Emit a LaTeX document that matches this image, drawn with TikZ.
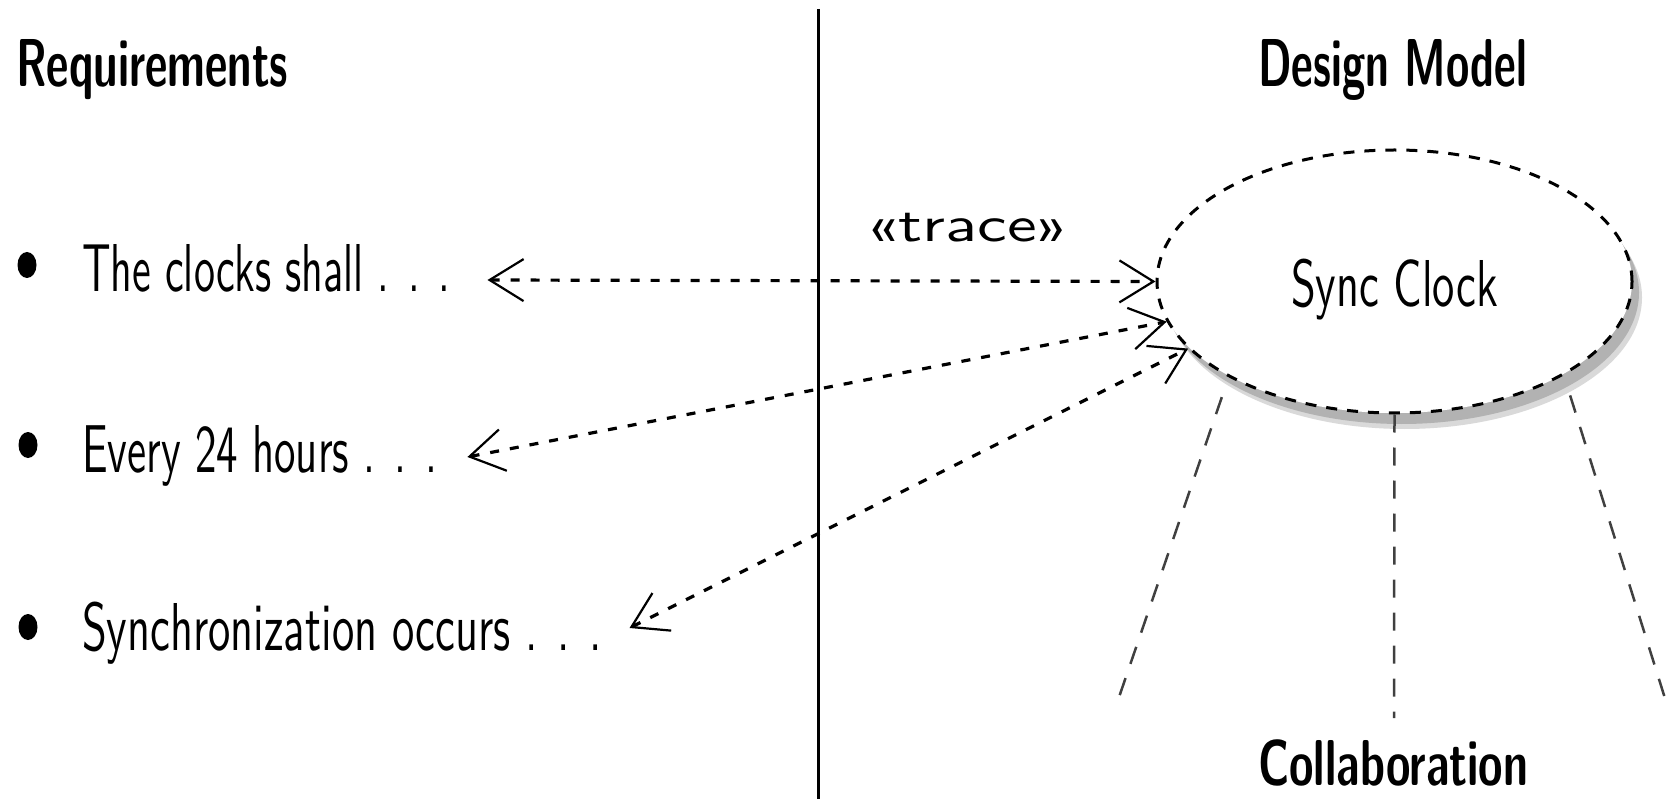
\documentclass[tikz,border=0pt]{standalone}
\usepackage{fontspec}
\usepackage{graphicx}
\usetikzlibrary{arrows.meta,shapes.geometric,shadows}
\newcommand\fitcap[3]{\resizebox{#1}{#2}{\raisebox{0pt}[\fontcharht\font`H][0pt]{#3}}}
\newcommand\fitxh[3]{\resizebox{#1}{#2}{\raisebox{0pt}[\fontcharht\font`x][0pt]{#3}}}
\begin{document}
\begin{tikzpicture}[x=1pt,y=-1pt,
  txt/.style={inner sep=0pt, anchor=base west, font=\sffamily},
  head/.style={txt, font=\sffamily\bfseries},
  tracearrow/.style={line width=3.2pt, dash pattern=on 9pt off 11pt,
    >={Straight Barb[length=34pt,width=42pt,line width=2.2pt]}, <->},
  collab/.style={line width=2.5pt, draw=black!75, dash pattern=on 18pt off 15pt},
  usecase/.style={ellipse, draw, line width=3pt, dash pattern=on 11pt off 10pt,
    fill=white, minimum width=475pt, minimum height=263pt, inner sep=0pt,
    font=\sffamily, text height=51pt, text depth=0pt,
    general shadow={fill=gray!30, shadow xshift=10pt, shadow yshift=-16pt},
    general shadow={fill=gray!60, shadow xshift=7pt, shadow yshift=-11pt}},
]
\useasboundingbox (0,0) rectangle (1670,799);

% divider
\draw[line width=3pt] (818,9) -- (818,799);

% headings
\node[head] (req) at (16,87) {\fitcap{272pt}{47pt}{Requirements}};
\node[head] (dm) at (1258,87) {\fitcap{269pt}{47pt}{Design Model}};

% requirement items
\fill (27,265) ellipse [x radius=9.5, y radius=13];
\fill (28,445) ellipse [x radius=9.5, y radius=13];
\fill (28,627) ellipse [x radius=9.5, y radius=13];
\node[txt] (r1) at (82,292) {\fitcap{368pt}{47pt}{The clocks shall . . .}};
\node[txt] (r2) at (82,472) {\fitcap{355pt}{47pt}{Every 24 hours . . .}};
\node[txt] (r3) at (82,650) {\fitcap{520pt}{47pt}{Synchronization occurs . . .}};

% use case
\node[usecase] (sync) at (1394.5,281.5) {\fitcap{207pt}{46pt}{Sync Clock}};

% trace label
\node[txt] (tr) at (865,242) {\fitxh{205pt}{22pt}{<<trace>>}};

% trace dependencies
\draw[tracearrow] ([xshift=37pt,yshift=-11.5pt]r1.east) -- (sync.180);
\draw[tracearrow] ([xshift=30pt,yshift=-8.5pt]r2.east) -- (sync.190);
\draw[tracearrow] ([xshift=27pt,yshift=-1.5pt]r3.east) -- (sync.198);

% collaboration
\coordinate (c1) at (1117,703);
\coordinate (c2) at (1394,718);
\coordinate (c3) at (1668,708);
\draw[collab, shorten <=21pt] (sync.210) -- (c1);
\draw[collab] (sync.south) -- (c2);
\draw[collab, shorten <=21pt] (sync.331) -- (c3);
\node[head] (col) at (1258,785) {\fitcap{270pt}{45pt}{Collaboration}};
\end{tikzpicture}
\end{document}
